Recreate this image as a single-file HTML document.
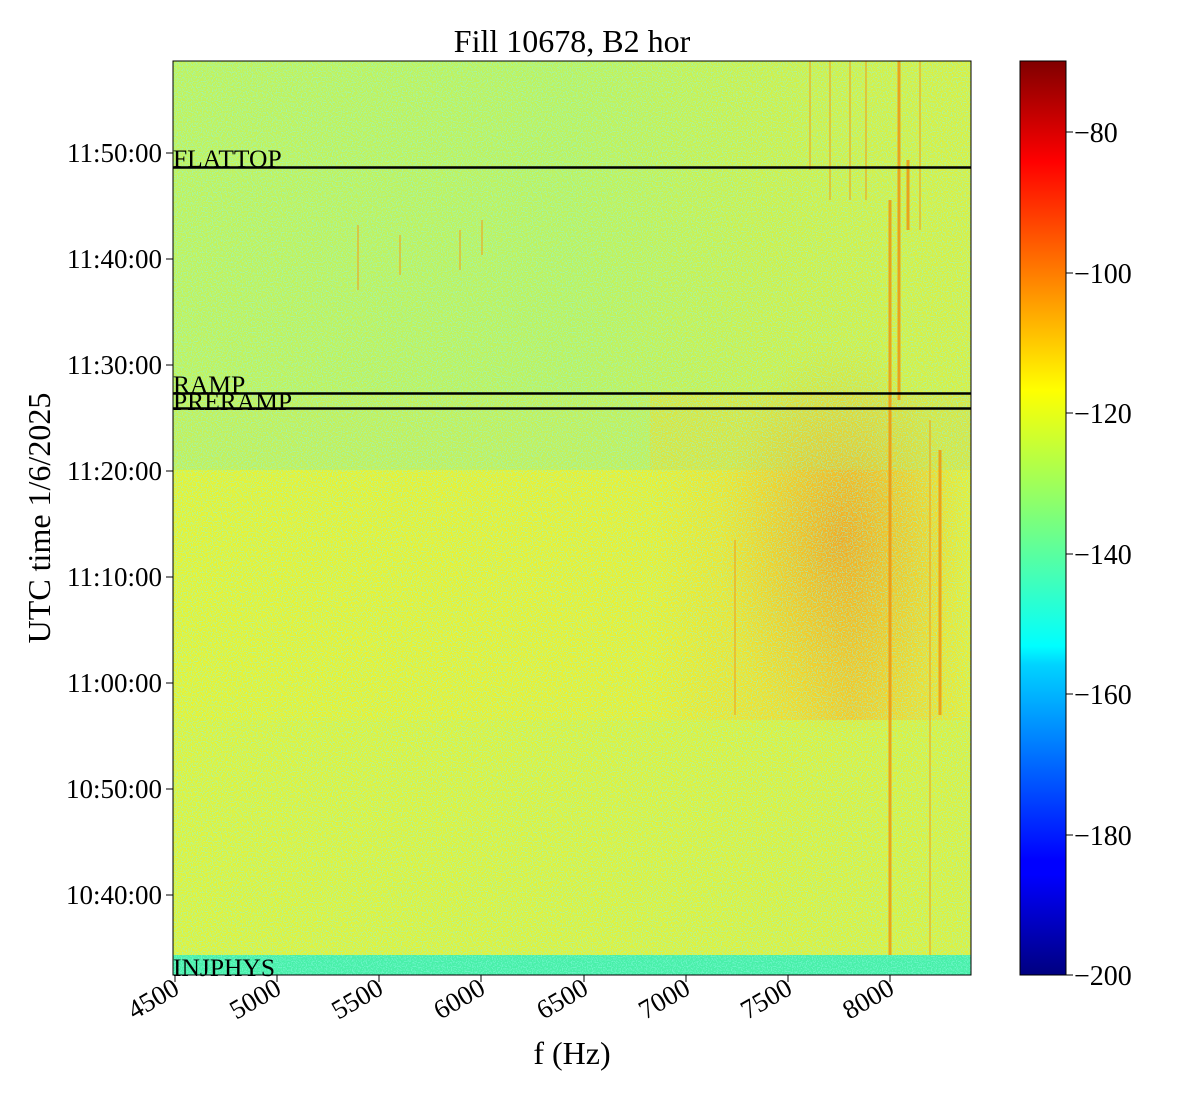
<!DOCTYPE html>
<html><head><meta charset="utf-8"><style>
body{margin:0;background:#fff;width:1200px;height:1100px;overflow:hidden;font-family:"Liberation Serif",serif;}
</style></head><body>
<svg width="1200" height="1100" xmlns="http://www.w3.org/2000/svg" font-family="Liberation Serif, serif">
<defs>
<linearGradient id="jet" x1="0" y1="1" x2="0" y2="0">
<stop offset="0" stop-color="#000080"/><stop offset="0.11" stop-color="#0000ff"/>
<stop offset="0.125" stop-color="#0000ff"/><stop offset="0.34" stop-color="#00d4ff"/>
<stop offset="0.36" stop-color="#0ff"/><stop offset="0.5" stop-color="#7dff7a"/>
<stop offset="0.64" stop-color="#ff0"/><stop offset="0.89" stop-color="#f00"/>
<stop offset="1" stop-color="#800000"/></linearGradient>
<linearGradient id="topg" x1="0" y1="0" x2="1" y2="0">
<stop offset="0" stop-color="#c4f25a"/><stop offset="0.5" stop-color="#c0f25c"/>
<stop offset="0.75" stop-color="#d2f048"/><stop offset="1" stop-color="#dcef40"/></linearGradient>
<linearGradient id="midg" x1="0" y1="0" x2="1" y2="0">
<stop offset="0" stop-color="#e8f232"/><stop offset="0.6" stop-color="#ecef30"/>
<stop offset="0.78" stop-color="#f4dc2c"/><stop offset="0.85" stop-color="#f6cc28"/>
<stop offset="0.95" stop-color="#f0e030"/><stop offset="1" stop-color="#eaee34"/></linearGradient>
<linearGradient id="botg" x1="0" y1="0" x2="1" y2="0">
<stop offset="0" stop-color="#e2f23a"/><stop offset="1" stop-color="#e0f03c"/></linearGradient>
<radialGradient id="hot" cx="0.5" cy="0.5" r="0.5">
<stop offset="0" stop-color="#f4a020" stop-opacity="0.75"/><stop offset="1" stop-color="#f4c020" stop-opacity="0"/></radialGradient>
<filter id="noise" filterUnits="userSpaceOnUse" x="173" y="61" width="798" height="914">
<feTurbulence type="fractalNoise" baseFrequency="0.8" numOctaves="1" seed="3"/>
<feColorMatrix values="0 0 0 0 0.25  0 0 0 0 0.95  0 0 0 0 0.75  0 0 0 7 -3.4"/></filter>
</defs>
<rect x="173" y="61" width="798" height="914" fill="url(#midg)"/>
<rect x="173" y="61" width="798" height="332" fill="url(#topg)"/>
<rect x="173" y="393" width="798" height="77" fill="#c6f058"/>
<rect x="650" y="393" width="321" height="77" fill="#e0e43c" opacity="0.8"/>
<rect x="173" y="720" width="798" height="235" fill="url(#botg)"/>
<ellipse cx="840" cy="540" rx="120" ry="200" fill="url(#hot)"/>
<rect x="173" y="955" width="798" height="20" fill="#48f0a8"/>
<rect x="173" y="61" width="798" height="914" filter="url(#noise)" opacity="0.55"/>
<g stroke="#f09010" stroke-width="3" opacity="0.8">
<line x1="899" y1="61" x2="899" y2="400"/><line x1="890" y1="200" x2="890" y2="955"/>
<line x1="940" y1="450" x2="940" y2="715"/><line x1="908" y1="160" x2="908" y2="230"/>
</g>
<g stroke="#f0a020" stroke-width="1.5" opacity="0.7">
<line x1="830" y1="61" x2="830" y2="200"/><line x1="850" y1="61" x2="850" y2="200"/>
<line x1="866" y1="61" x2="866" y2="200"/><line x1="920" y1="61" x2="920" y2="230"/>
<line x1="930" y1="420" x2="930" y2="955"/><line x1="810" y1="61" x2="810" y2="170"/>
<line x1="358" y1="225" x2="358" y2="290"/><line x1="400" y1="235" x2="400" y2="275"/>
<line x1="482" y1="220" x2="482" y2="255"/><line x1="460" y1="230" x2="460" y2="270"/>
<line x1="735" y1="540" x2="735" y2="715"/>
</g>
<g stroke="#000" stroke-width="2.5">
<line x1="173" y1="167.5" x2="971" y2="167.5"/>
<line x1="173" y1="393.5" x2="971" y2="393.5"/>
<line x1="173" y1="408.5" x2="971" y2="408.5"/>
</g>
<g font-size="25.5" fill="#000">
<text x="173" y="167">FLATTOP</text><text x="173" y="393">RAMP</text>
<text x="173" y="410">PRERAMP</text><text x="173" y="976">INJPHYS</text>
</g>
<rect x="173" y="61" width="798" height="914" fill="none" stroke="#000" stroke-width="1"/>
<text x="572" y="52" font-size="32" text-anchor="middle">Fill 10678, B2 hor</text>
<g font-size="27" text-anchor="end">
<text x="162" y="162">11:50:00</text><text x="162" y="268">11:40:00</text>
<text x="162" y="374">11:30:00</text><text x="162" y="480">11:20:00</text>
<text x="162" y="586">11:10:00</text><text x="162" y="692">11:00:00</text>
<text x="162" y="798">10:50:00</text><text x="162" y="904">10:40:00</text>
</g>
<g stroke="#000" stroke-width="1">
<line x1="166" y1="153" x2="173" y2="153"/><line x1="166" y1="259" x2="173" y2="259"/>
<line x1="166" y1="365" x2="173" y2="365"/><line x1="166" y1="471" x2="173" y2="471"/>
<line x1="166" y1="577" x2="173" y2="577"/><line x1="166" y1="683" x2="173" y2="683"/>
<line x1="166" y1="789" x2="173" y2="789"/><line x1="166" y1="895" x2="173" y2="895"/>
<line x1="175" y1="975" x2="175" y2="982"/><line x1="277" y1="975" x2="277" y2="982"/>
<line x1="379" y1="975" x2="379" y2="982"/><line x1="481" y1="975" x2="481" y2="982"/>
<line x1="584" y1="975" x2="584" y2="982"/><line x1="686" y1="975" x2="686" y2="982"/>
<line x1="788" y1="975" x2="788" y2="982"/><line x1="890" y1="975" x2="890" y2="982"/>
</g>
<text transform="translate(50,518) rotate(-90)" font-size="32" text-anchor="middle">UTC time 1/6/2025</text>
<g font-size="27" text-anchor="end">
<text transform="translate(181,993) rotate(-30)">4500</text>
<text transform="translate(283,993) rotate(-30)">5000</text>
<text transform="translate(385,993) rotate(-30)">5500</text>
<text transform="translate(487,993) rotate(-30)">6000</text>
<text transform="translate(590,993) rotate(-30)">6500</text>
<text transform="translate(692,993) rotate(-30)">7000</text>
<text transform="translate(794,993) rotate(-30)">7500</text>
<text transform="translate(896,993) rotate(-30)">8000</text>
</g>
<text x="572" y="1064" font-size="32" text-anchor="middle">f (Hz)</text>
<rect x="1020" y="61" width="46" height="914" fill="url(#jet)" stroke="#000" stroke-width="1"/>
<g stroke="#000" stroke-width="1">
<line x1="1066" y1="132" x2="1073" y2="132"/><line x1="1066" y1="273" x2="1073" y2="273"/>
<line x1="1066" y1="413" x2="1073" y2="413"/><line x1="1066" y1="554" x2="1073" y2="554"/>
<line x1="1066" y1="694" x2="1073" y2="694"/><line x1="1066" y1="835" x2="1073" y2="835"/>
<line x1="1066" y1="975" x2="1073" y2="975"/>
</g>
<g font-size="28">
<text x="1074" y="142">−80</text><text x="1074" y="283">−100</text>
<text x="1074" y="423">−120</text><text x="1074" y="564">−140</text>
<text x="1074" y="704">−160</text><text x="1074" y="845">−180</text>
<text x="1074" y="985">−200</text>
</g>
</svg>
</body></html>
